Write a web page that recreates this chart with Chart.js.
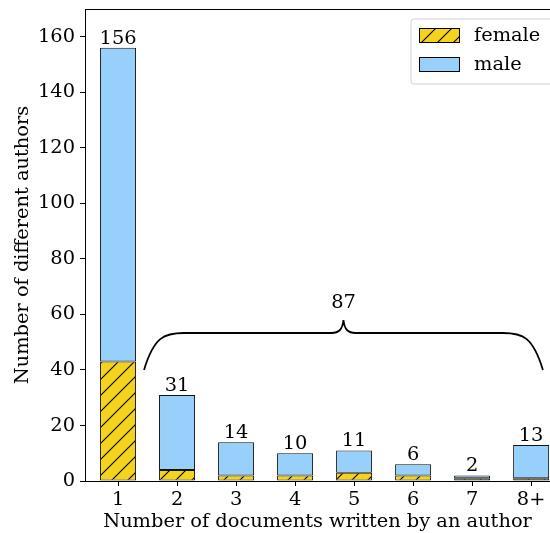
<!DOCTYPE html>
<html><head><meta charset="utf-8">
<script src="https://cdn.jsdelivr.net/npm/chart.js@4/dist/chart.umd.min.js"></script>
<style>html,body{margin:0;padding:0;background:#fff}canvas{display:block}</style>
</head><body>
<canvas id="c" width="550" height="533"></canvas>
<script>
const categories = ['1','2','3','4','5','6','7','8+'];
const femaleCounts = [43,4,2,2,3,2,1,1];
const maleCounts = [113,27,12,8,8,4,1,12];
const totalCounts = [156,31,14,10,11,6,2,13];
const yTickValues = [0,20,40,60,80,100,120,140,160];
const seriesNames = ['female','male'];
const braceText = '87';

const FONT = 'DejaVu Serif';
const FS = 19.4;
const YELLOW = '#F3D31B';
const BLUE = '#96D0FB';

function makeHatch(){
  const s = 16;
  const cv = document.createElement('canvas');
  cv.width = s; cv.height = s;
  const g = cv.getContext('2d');
  g.fillStyle = YELLOW; g.fillRect(0,0,s,s);
  g.strokeStyle = '#000'; g.lineWidth = 1.1;
  g.beginPath();
  g.moveTo(-2, s+2); g.lineTo(s+2, -2);
  g.moveTo(-2, 2); g.lineTo(2, -2);
  g.moveTo(s-2, s+2); g.lineTo(s+2, s-2);
  g.stroke();
  return document.getElementById('c').getContext('2d').createPattern(cv, 'repeat');
}
const hatch = makeHatch();

const extras = {
  id: 'extras',
  afterDatasetsDraw(chart){
    const ctx = chart.ctx, xs = chart.scales.x, ys = chart.scales.y, ca = chart.chartArea;
    ctx.save();
    // top spine
    ctx.strokeStyle = '#000'; ctx.lineWidth = 1;
    ctx.beginPath(); ctx.moveTo(ca.left, ca.top + 0.5); ctx.lineTo(ca.right, ca.top + 0.5); ctx.stroke();
    // totals
    ctx.fillStyle = '#000';
    ctx.font = FS + 'px "' + FONT + '"';
    ctx.textAlign = 'center'; ctx.textBaseline = 'alphabetic';
    totalCounts.forEach((t, i) => {
      ctx.fillText(String(t), xs.getPixelForValue(i), ys.getPixelForValue(t) - 4);
    });
    // brace
    const x0 = xs.getPixelForValue(0.44), x1 = xs.getPixelForValue(7.2), xm = (x0 + x1) / 2;
    const yE = ys.getPixelForValue(40), yH = ys.getPixelForValue(53.3), yT = ys.getPixelForValue(58);
    ctx.lineWidth = 1.8; ctx.strokeStyle = '#000';
    ctx.beginPath();
    ctx.moveTo(x0, yE);
    ctx.bezierCurveTo(x0 + 10, yH + 4, x0 + 20, yH, x0 + 40, yH);
    ctx.lineTo(xm - 12, yH);
    ctx.bezierCurveTo(xm - 5, yH, xm - 1, yH - 3, xm, yT);
    ctx.bezierCurveTo(xm + 1, yH - 3, xm + 5, yH, xm + 12, yH);
    ctx.lineTo(x1 - 40, yH);
    ctx.bezierCurveTo(x1 - 20, yH, x1 - 10, yH + 4, x1, yE);
    ctx.stroke();
    ctx.textBaseline = 'middle';
    ctx.fillText(braceText, xm, ys.getPixelForValue(64));
    // legend
    const lx = 411, ly = 19, lw = 145, lh = 65, r = 3;
    ctx.beginPath();
    ctx.moveTo(lx + r, ly); ctx.lineTo(lx + lw - r, ly); ctx.quadraticCurveTo(lx + lw, ly, lx + lw, ly + r);
    ctx.lineTo(lx + lw, ly + lh - r); ctx.quadraticCurveTo(lx + lw, ly + lh, lx + lw - r, ly + lh);
    ctx.lineTo(lx + r, ly + lh); ctx.quadraticCurveTo(lx, ly + lh, lx, ly + lh - r);
    ctx.lineTo(lx, ly + r); ctx.quadraticCurveTo(lx, ly, lx + r, ly);
    ctx.closePath();
    ctx.fillStyle = 'rgba(255,255,255,0.8)'; ctx.fill();
    ctx.strokeStyle = '#d0d0d0'; ctx.lineWidth = 1; ctx.stroke();
    const fills = [hatch, BLUE];
    const rowsY = [28, 57];
    seriesNames.forEach((n, i) => {
      ctx.fillStyle = fills[i];
      ctx.fillRect(419, rowsY[i], 40, 15);
      ctx.strokeStyle = '#000'; ctx.lineWidth = 1;
      ctx.strokeRect(419.5, rowsY[i] + 0.5, 40, 14);
      ctx.fillStyle = '#000';
      ctx.textAlign = 'left'; ctx.textBaseline = 'middle';
      ctx.fillText(n, 474, rowsY[i] + 8);
    });
    ctx.restore();
  }
};

new Chart(document.getElementById('c'), {
  type: 'bar',
  data: {
    datasets: [
      { label: seriesNames[0], data: femaleCounts.map((v, i) => ({x: i, y: v})),
        backgroundColor: hatch, borderColor: '#111', borderWidth: 1, borderSkipped: false },
      { label: seriesNames[1], data: maleCounts.map((v, i) => ({x: i, y: v})),
        backgroundColor: BLUE, borderColor: '#111', borderWidth: 1, borderSkipped: false }
    ]
  },
  options: {
    responsive: false,
    animation: false,
    devicePixelRatio: 1,
    barPercentage: 0.61,
    categoryPercentage: 1,
    layout: { padding: { top: 9, right: 0, bottom: 0, left: 0 } },
    plugins: { legend: { display: false }, tooltip: { enabled: false } },
    scales: {
      x: {
        type: 'linear', min: -0.56, max: 7.32, stacked: true, offset: false,
        afterBuildTicks: s => { s.ticks = categories.map((c, i) => ({ value: i })); },
        afterFit: s => { s.height = 52; s.paddingLeft = 0; s.paddingRight = 0; },
        ticks: { callback: v => categories[v], font: { family: FONT, size: FS }, color: '#000', padding: 2, maxRotation: 0, autoSkip: false },
        grid: { drawOnChartArea: false, drawTicks: true, tickLength: 5, color: '#000', offset: false },
        border: { display: true, color: '#000', width: 1 },
        title: { display: true, text: 'Number of documents written by an author', color: '#000',
                 font: { family: FONT, size: FS, lineHeight: 1.1 }, padding: 0 }
      },
      y: {
        min: 0, max: 170, stacked: true,
        afterBuildTicks: s => { s.ticks = yTickValues.map(v => ({ value: v })); },
        afterFit: s => { s.width = 85; s.paddingTop = 0; s.paddingBottom = 0; },
        ticks: { font: { family: FONT, size: FS }, color: '#000', padding: 5 },
        grid: { drawOnChartArea: false, drawTicks: true, tickLength: 5, color: '#000' },
        border: { display: true, color: '#000', width: 1 },
        title: { display: true, text: 'Number of different authors', color: '#000',
                 font: { family: FONT, size: FS, lineHeight: 1.1 }, padding: { top: 12, bottom: 0 } }
      }
    }
  },
  plugins: [extras]
});
</script>
</body></html>
